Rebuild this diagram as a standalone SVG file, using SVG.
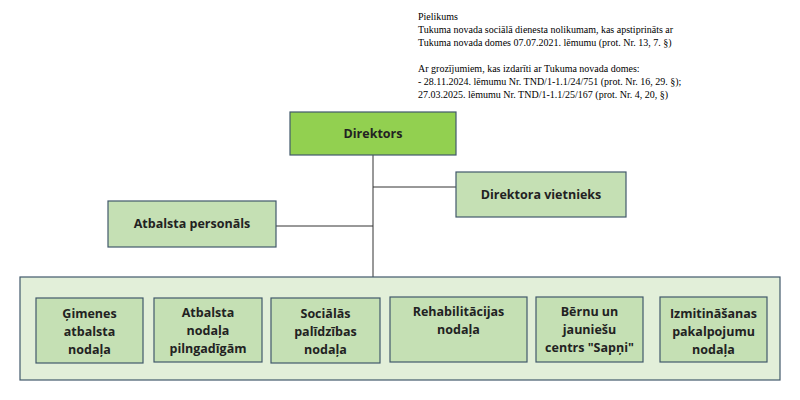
<svg xmlns="http://www.w3.org/2000/svg" width="800" height="400" viewBox="0 0 800 400">
<style>
.b{fill:#c5e0b4;stroke:#41596b;stroke-width:1.2}
.t{font-family:"Open Sans","Liberation Sans",sans-serif;font-weight:bold;font-size:12.5px;fill:#222;text-anchor:middle}
.n{font-family:"Liberation Serif",serif;font-size:10px;fill:#000}
.c{stroke:#333;stroke-width:1;fill:none}
</style>
<rect width="800" height="400" fill="#fff"/>
<g id="note" class="n">
<text x="418" y="20">Pielikums</text>
<text x="418" y="33">Tukuma novada sociālā dienesta nolikumam, kas apstiprināts ar</text>
<text x="418" y="46">Tukuma novada domes 07.07.2021. lēmumu (prot. Nr. 13, 7. §)</text>
<text x="418" y="72">Ar grozījumiem, kas izdarīti ar Tukuma novada domes:</text>
<text x="418" y="85">- 28.11.2024. lēmumu Nr. TND/1-1.1/24/751 (prot. Nr. 16, 29. §);</text>
<text x="418" y="98">27.03.2025. lēmumu Nr. TND/1-1.1/25/167 (prot. Nr. 4, 20, §)</text>
</g>
<g id="connectors" class="c">
<line x1="373" y1="155" x2="373" y2="277"/>
<line x1="373" y1="187" x2="456" y2="187"/>
<line x1="276" y1="226" x2="373" y2="226"/>
</g>
<g id="outer"><rect x="20" y="277" width="760" height="103" fill="#e2efd9" stroke="#41596b" stroke-width="1.2"/></g>
<g id="direktors"><rect x="290" y="112" width="166" height="43" fill="#92d050" stroke="#41596b" stroke-width="1.2"/><text class="t" x="373" y="138" font-size="14">Direktors</text></g>
<g id="vietnieks"><rect class="b" x="456" y="172" width="170" height="45"/><text class="t" x="541" y="199">Direktora vietnieks</text></g>
<g id="personals"><rect class="b" x="108" y="201" width="168" height="46"/><text class="t" x="192" y="228">Atbalsta personāls</text></g>
<g id="gimenes"><rect class="b" x="36" y="298" width="107" height="65"/><text class="t" x="89.5" y="318">Ģimenes</text><text class="t" x="89.5" y="336">atbalsta</text><text class="t" x="89.5" y="354">nodaļa</text></g>
<g id="pilngadigam"><rect class="b" x="154" y="298" width="108" height="64"/><text class="t" x="208" y="317">Atbalsta</text><text class="t" x="208" y="335">nodaļa</text><text class="t" x="208" y="353">pilngadīgām</text></g>
<g id="socialas"><rect class="b" x="271" y="298" width="109" height="65"/><text class="t" x="325.5" y="318">Sociālās</text><text class="t" x="325.5" y="336">palīdzības</text><text class="t" x="325.5" y="354">nodaļa</text></g>
<g id="rehab"><rect class="b" x="390" y="297" width="137" height="65"/><text class="t" x="458.5" y="316">Rehabilitācijas</text><text class="t" x="458.5" y="334">nodaļa</text></g>
<g id="sapni"><rect class="b" x="536" y="297" width="107" height="65"/><text class="t" x="589.5" y="316">Bērnu un</text><text class="t" x="589.5" y="334">jauniešu</text><text class="t" x="589.5" y="352">centrs "Sapņi"</text></g>
<g id="izmitinasanas"><rect class="b" x="660" y="297" width="107" height="65"/><text class="t" x="713.5" y="318">Izmitināšanas</text><text class="t" x="713.5" y="336">pakalpojumu</text><text class="t" x="713.5" y="354">nodaļa</text></g>
</svg>
